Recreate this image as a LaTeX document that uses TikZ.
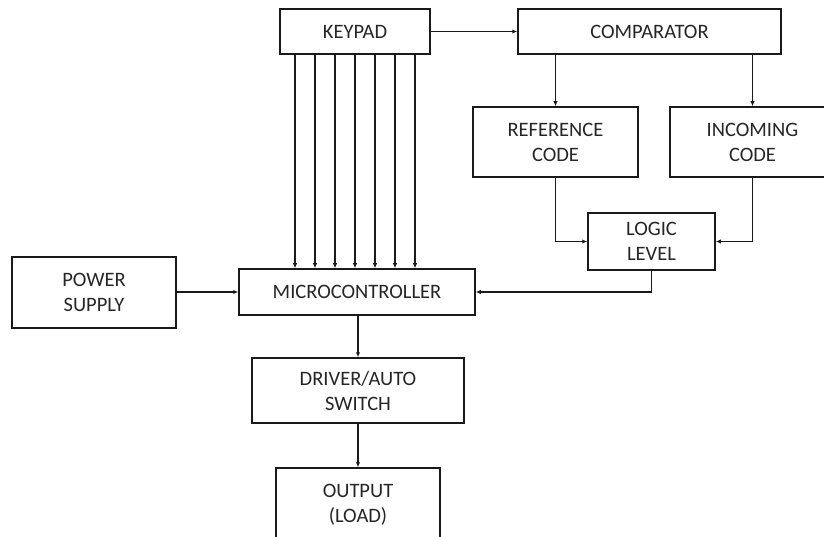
\documentclass[tikz,border=0pt]{standalone}
\usepackage{fontspec}
\setmainfont{Carlito}
\usetikzlibrary{arrows.meta,calc}
\definecolor{txt}{HTML}{262626}
\definecolor{ln}{HTML}{1A1A1A}
\begin{document}
\begin{tikzpicture}[x=1pt,y=-1pt,
  blk/.style={draw=ln,line width=1.5pt,fill=white,rectangle,inner sep=0pt,
    text=txt,align=center,font=\fontsize{20.5}{25}\selectfont},
  conn/.style={draw=ln,line width=1.2pt,-{Latex[length=5pt,width=4.5pt]}}]
\useasboundingbox (0,0) rectangle (824,537);
\begin{scope}
\clip (0,0) rectangle (824,537);
\node[blk,minimum width=150pt,minimum height=45pt] (keypad) at (355,31.5) {KEYPAD};
\node[blk,minimum width=263pt,minimum height=45pt] (comp) at (649.5,31.5) {COMPARATOR};
\node[blk,minimum width=165pt,minimum height=70pt] (ref) at (555.5,142) {REFERENCE\\CODE};
\node[blk,minimum width=165pt,minimum height=70pt] (inc) at (752.5,142) {INCOMING\\CODE};
\node[blk,minimum width=127pt,minimum height=57pt] (logic) at (651.5,241.5) {LOGIC\\LEVEL};
\node[blk,minimum width=164pt,minimum height=71pt] (power) at (94,292.5) {POWER\\SUPPLY};
\node[blk,minimum width=236pt,minimum height=46pt] (micro) at (357,292) {MICROCONTROLLER};
\node[blk,minimum width=212pt,minimum height=65pt] (driver) at (358,390.5) {DRIVER/AUTO\\SWITCH};
\node[blk,minimum width=164pt,minimum height=74pt] (out) at (358,505) {OUTPUT\\(LOAD)};

\draw[conn] (keypad.east) -- (comp.west);
\draw[conn] (comp.south -| ref.north) -- (ref.north);
\draw[conn] (comp.south -| inc.north) -- (inc.north);
\draw[conn] (ref.south) |- (logic.west);
\draw[conn] (inc.south) |- (logic.east);
\draw[conn] (logic.south) |- (micro.east);
\draw[conn] (power.east |- micro.west) -- (micro.west);
\draw[conn] (micro.south -| driver.north) -- (driver.north);
\draw[conn] (driver.south) -- (out.north);
\foreach \dx [count=\i] in {-60,-40,-20,0,20,40,60}{
  \coordinate (k\i) at ($(keypad.south)+(\dx,0)$);
  \draw[conn] (k\i) -- (k\i |- micro.north);
}
\end{scope}
\end{tikzpicture}
\end{document}
